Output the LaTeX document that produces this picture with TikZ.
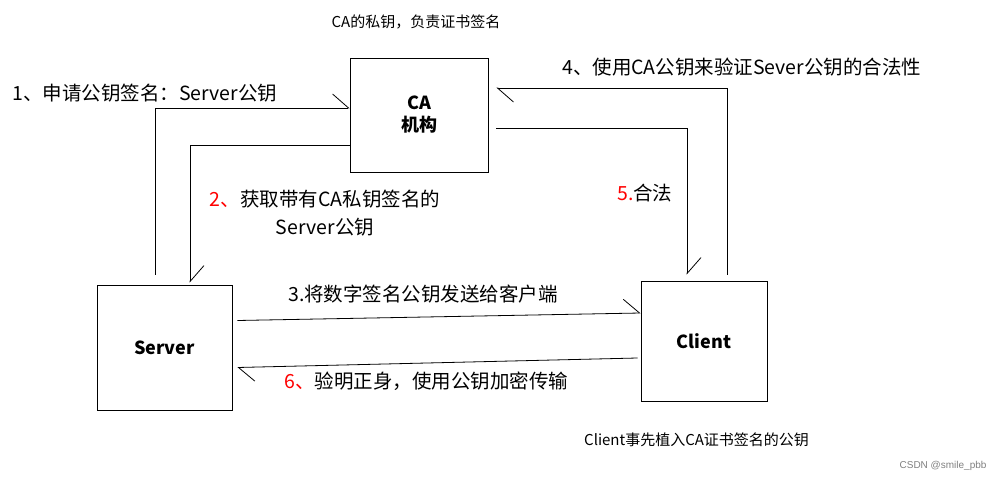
\documentclass[tikz,border=0pt]{standalone}
\usepackage{fontspec}
\newfontfamily\cjk{Noto Sans CJK SC}
\usetikzlibrary{arrows.meta}
\begin{document}
\begin{tikzpicture}[x=1pt,y=-1pt,
  box/.style={draw,line width=0.8pt,inner sep=0pt,font=\cjk\bfseries\fontsize{18}{22}\selectfont,align=center},
  conn/.style={line width=0.8pt,-{Straight Barb[left,length=16pt,width=28pt,line width=0.8pt]}},
  lab/.style={font=\cjk\fontsize{19.5}{28}\selectfont,inner sep=0pt,align=center},
  small/.style={font=\cjk\fontsize{15}{18}\selectfont,inner sep=0pt}]
\useasboundingbox (0,0) rectangle (1004,481);
\node[box,minimum width=138pt,minimum height=114pt] (ca) at (419,115) {CA\\机构};
\node[box,minimum width=135pt,minimum height=125pt] (sv) at (164.5,347.5) {Server};
\node[box,minimum width=126pt,minimum height=120pt] (cl) at (704,341) {Client};
\coordinate (c1) at (155,108);
\coordinate (c2) at (190,145);
\coordinate (c4) at (727,88);
\coordinate (c5) at (687,128);
\draw[conn] (sv.north west -| c1) ++(0,-10) |- (ca.west |- c1);
\draw[conn] (ca.west |- c2) -| ([yshift=2pt]sv.north west -| c2);
\draw[conn] ([xshift=5pt,yshift=27pt]sv.east) -- ([yshift=28pt]cl.west);
\draw[conn] ([yshift=6pt]cl.north -| c4) |- ([xshift=8pt]ca.east |- c4);
\draw[conn] ([xshift=8pt]ca.east |- c5) -| ([yshift=6pt]cl.north -| c5);
\draw[conn] ([xshift=-3pt,yshift=-17pt]cl.west) -- ([xshift=5pt,yshift=-20pt]sv.east);
\node[small] (t0) at (416,22) {CA的私钥，负责证书签名};
\node[lab,anchor=west] (t1) at (12,93) {1、申请公钥签名：Server公钥};
\node[lab,anchor=west] (t4) at (562,67) {4、使用CA公钥来验证Sever公钥的合法性};
\node[lab] (t2) at (325,213) {\textcolor{red}{2、}获取带有CA私钥签名的\\Server公钥};
\node[lab,anchor=west] (t5) at (617,193) {\textcolor{red}{5.}合法};
\node[lab,anchor=west] (t3) at (288,294) {3.将数字签名公钥发送给客户端};
\node[lab,anchor=west] (t6) at (284,381) {\textcolor{red}{6、}验明正身，使用公钥加密传输};
\node[small,anchor=west] (t7) at (584,440) {Client事先植入CA证书签名的公钥};
\node[font=\fontspec{Liberation Sans}\fontsize{10}{12}\selectfont,text=gray,anchor=east] (t8) at (990,466) {CSDN @smile\_pbb};
\end{tikzpicture}
\end{document}
